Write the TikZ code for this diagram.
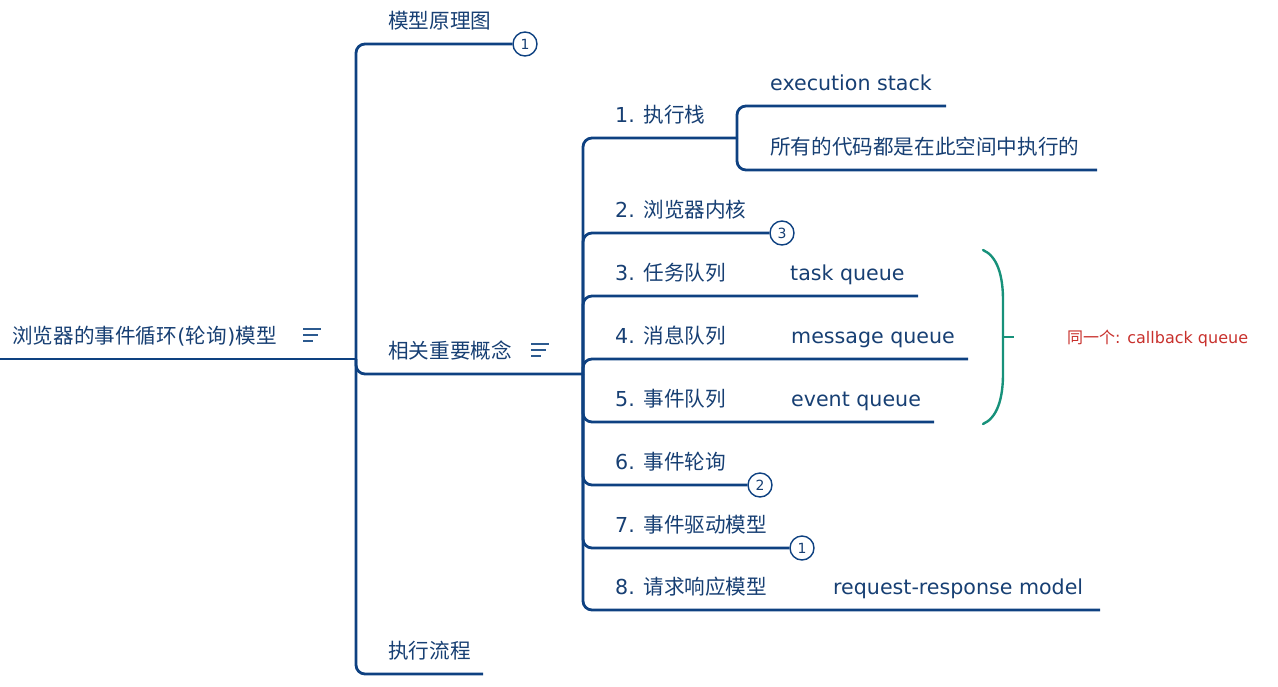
\documentclass[tikz,border=0pt]{standalone}
\usepackage{fontspec}
\setmainfont{DejaVu Sans}
\newfontfamily\cjk{Noto Sans CJK SC}
\definecolor{ln}{HTML}{0E4181}
\definecolor{tx}{HTML}{173F73}
\definecolor{icn}{HTML}{2C5A8F}
\definecolor{tealbr}{HTML}{17917A}
\definecolor{rd}{HTML}{C8302C}
\begin{document}
\begin{tikzpicture}[x=1pt,y=-1pt,
  conn/.style={draw=ln, line width=2.8pt, rounded corners=9pt},
  lbl/.style={anchor=base west, inner sep=0pt, text=tx, font=\fontsize{20.6}{24}\selectfont},
  cnum/.style={circle, draw=ln, fill=white, line width=1.4pt, minimum size=24pt, inner sep=0pt, text=tx, font=\fontsize{14}{14}\selectfont},
  menu/.style={draw=icn, line width=2pt},
  bracel/.style={draw=tealbr, line width=2.4pt, line cap=round},
  note/.style={anchor=base west, inner sep=0pt, text=rd, font=\fontsize{16}{18}\selectfont}]
\useasboundingbox (0,0) rectangle (1278,686);

% junctions
\coordinate (start) at (0,359);
\coordinate (J0) at (356,359);
\coordinate (J1) at (583,374);
\coordinate (J2) at (737,138);

% circles
\node[cnum] (c1) at (525,44) {1};
\node[cnum] (c3) at (782,233) {3};
\node[cnum] (c2) at (760,485) {2};
\node[cnum] (c1b) at (802,548) {1};

% line ends
\coordinate (e13) at (483,674);
\coordinate (e31) at (946,106);
\coordinate (e32) at (1097,170);
\coordinate (e23) at (918,296);
\coordinate (e24) at (968,359);
\coordinate (e25) at (934,422);
\coordinate (e28) at (1100,610);

% root
\node[lbl] (root) at (12,343.5) {{\cjk 浏览器的事件循环}\kern0.5pt(\kern0.3pt{\cjk 轮询}\kern0.3pt)\kern0.5pt{\cjk 模型}};
\draw[menu] (303,329) -- (321,329) (303,335) -- (318,335) (303,341) -- (313,341);
\draw[conn] (start) -- (J0);

% level 1
\node[lbl] (n11) at (388,28.5) {\cjk 模型原理图};
\node[lbl] (n12) at (388,358.5) {\cjk 相关重要概念};
\draw[menu] (531,344) -- (549,344) (531,350) -- (546,350) (531,356) -- (541,356);
\node[lbl] (n13) at (388,658.5) {\cjk 执行流程};
\draw[conn] (J0) -- (356,44) -- (c1.west);
\draw[conn] (J0) -- (356,374) -- (J1);
\draw[conn] (J0) -- (356,674) -- (e13);

% level 2
\node[lbl] (n21) at (615,122.5) {1. {\cjk 执行栈}};
\node[lbl] (n22) at (615,217.5) {2. {\cjk 浏览器内核}};
\node[lbl] (n23) at (615,280.5) {3. {\cjk 任务队列}};
\node[lbl] (n24) at (615,343.5) {4. {\cjk 消息队列}};
\node[lbl] (n25) at (615,406.5) {5. {\cjk 事件队列}};
\node[lbl] (n26) at (615,469.5) {6. {\cjk 事件轮询}};
\node[lbl] (n27) at (615,532.5) {7. {\cjk 事件驱动模型}};
\node[lbl] (n28) at (615,594.5) {8. {\cjk 请求响应模型}};
\draw[conn] (J1) -- (583,138) -- (J2);
\draw[conn] (J1) -- (583,233) -- (c3.west);
\draw[conn] (J1) -- (583,296) -- (e23);
\draw[conn] (J1) -- (583,359) -- (e24);
\draw[conn] (J1) -- (583,422) -- (e25);
\draw[conn] (J1) -- (583,485) -- (c2.west);
\draw[conn] (J1) -- (583,548) -- (c1b.west);
\draw[conn] (J1) -- (583,610) -- (e28);

% level 3
\node[lbl] (n31) at (770,90.5) {execution stack};
\node[lbl] (n32) at (770,154.5) {\cjk 所有的代码都是在此空间中执行的};
\draw[conn] (J2) -- (737,106) -- (e31);
\draw[conn] (J2) -- (737,170) -- (e32);
\node[lbl] (n33) at (790,280.5) {task queue};
\node[lbl] (n34) at (791,343.5) {message queue};
\node[lbl] (n35) at (791,406.5) {event queue};
\node[lbl] (n38) at (833,594.5) {request-response model};

% brace and note
\coordinate (bt) at (983,250);
\coordinate (bb) at (983,424);
\coordinate (bm) at (1003,337);
\coordinate (btip) at (1014,337);
\draw[bracel] (bt) .. controls (997,256) and (1003,275) .. (1003,300) -- (1003,374) .. controls (1003,399) and (997,418) .. (bb);
\draw[bracel, line cap=butt] (bm) -- (btip);
\node[note] (note) at (1067,343) {{\cjk 同一个}: callback queue};
\end{tikzpicture}
\end{document}
